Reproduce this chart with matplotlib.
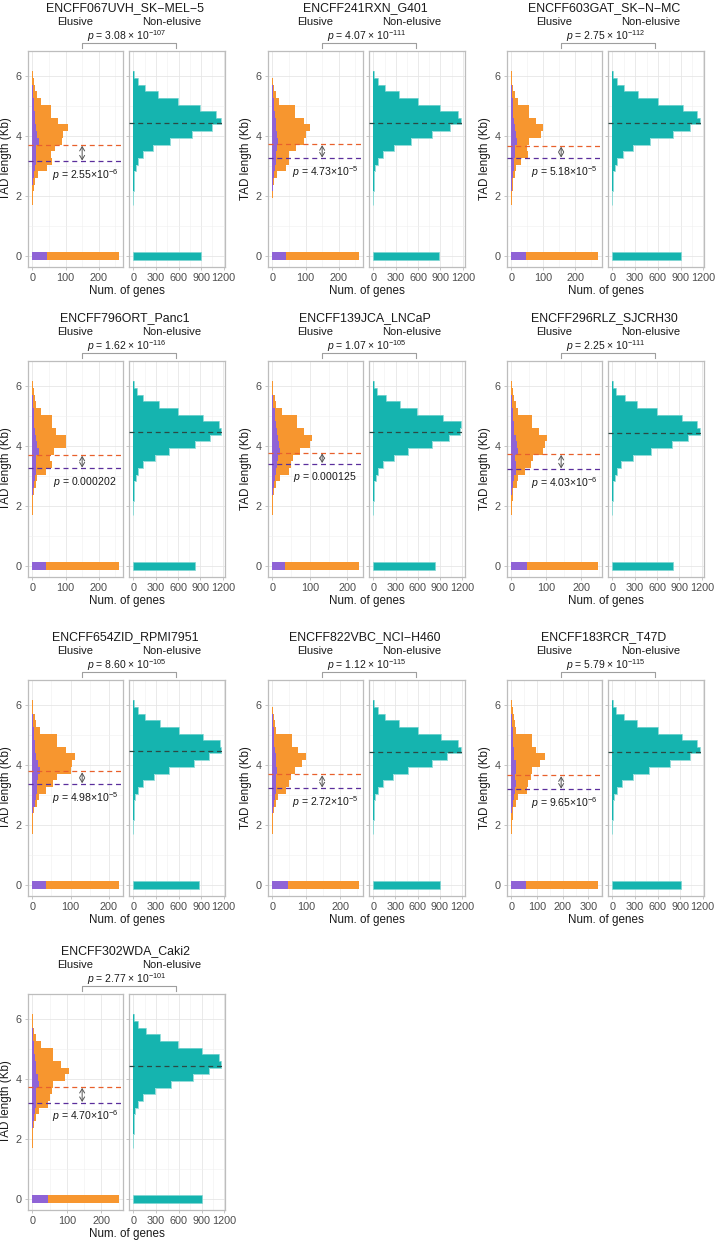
"""
TAD length distributions of elusive vs non-elusive genes, one panel pair per cell line.
"""

import matplotlib.pyplot as plt
import matplotlib.transforms as mtransforms
from matplotlib.lines import Line2D
from matplotlib.ticker import MultipleLocator
import numpy as np

plt.rcParams['font.family'] = ['Liberation Sans', 'DejaVu Sans']
plt.rcParams['mathtext.fontset'] = 'custom'
plt.rcParams['mathtext.rm'] = 'Liberation Sans'
plt.rcParams['mathtext.it'] = 'Liberation Sans:italic'

# Data
cell_lines = ['ENCFF067UVH_SK\u2212MEL\u22125', 'ENCFF241RXN_G401', 'ENCFF603GAT_SK\u2212N\u2212MC',
              'ENCFF796ORT_Panc1', 'ENCFF139JCA_LNCaP', 'ENCFF296RLZ_SJCRH30',
              'ENCFF654ZID_RPMI7951', 'ENCFF822VBC_NCI\u2212H460', 'ENCFF183RCR_T47D',
              'ENCFF302WDA_Caki2']

# histogram bin centres (TAD length, Kb)
tad_bins = [1.82, 2.04, 2.27, 2.49, 2.71, 2.93, 3.16, 3.38, 3.60, 3.82,
            4.04, 4.27, 4.49, 4.71, 4.93, 5.16, 5.38, 5.60, 5.82, 6.04]

elusive_counts = [
    [1, 3, 4, 8, 18, 43, 58, 55, 68, 90, 92, 108, 78, 55, 55, 25, 15, 8, 4, 2],
    [0, 1, 3, 6, 15, 40, 50, 50, 70, 95, 100, 112, 95, 67, 67, 20, 12, 5, 2, 0],
    [1, 2, 4, 6, 10, 15, 30, 52, 48, 55, 92, 100, 78, 55, 55, 20, 10, 6, 3, 1],
    [2, 3, 3, 5, 12, 15, 40, 58, 52, 65, 100, 100, 70, 60, 60, 25, 12, 8, 5, 2],
    [1, 2, 3, 5, 10, 20, 45, 50, 55, 75, 100, 105, 85, 65, 65, 25, 10, 8, 3, 1],
    [1, 2, 4, 5, 15, 18, 40, 55, 62, 90, 95, 103, 80, 60, 60, 20, 12, 8, 4, 1],
    [1, 2, 3, 5, 12, 18, 35, 55, 65, 100, 105, 112, 88, 65, 65, 20, 10, 6, 3, 1],
    [1, 2, 3, 5, 10, 18, 40, 50, 55, 68, 88, 100, 77, 57, 57, 10, 8, 5, 2, 0],
    [1, 2, 5, 8, 20, 25, 60, 65, 78, 82, 110, 130, 95, 80, 80, 20, 15, 10, 5, 1],
    [1, 2, 3, 5, 12, 18, 45, 52, 58, 60, 95, 105, 82, 60, 60, 25, 12, 6, 3, 1],
]

subset_counts = [
    [0, 0, 0, 3, 6, 8, 10, 12, 12, 20, 15, 10, 8, 8, 6, 4, 2, 1, 0, 0],
    [0, 0, 1, 3, 5, 8, 10, 12, 15, 18, 15, 12, 10, 8, 6, 4, 2, 1, 0, 0],
    [0, 0, 1, 3, 5, 8, 8, 12, 10, 18, 15, 12, 8, 6, 5, 4, 2, 1, 0, 0],
    [0, 0, 0, 2, 5, 8, 10, 12, 12, 20, 15, 10, 8, 6, 5, 4, 2, 1, 0, 0],
    [0, 0, 0, 2, 5, 8, 10, 12, 15, 20, 18, 15, 12, 10, 8, 6, 3, 1, 0, 0],
    [0, 0, 0, 3, 6, 8, 12, 12, 10, 18, 15, 12, 8, 8, 6, 5, 2, 1, 0, 0],
    [0, 0, 0, 2, 6, 10, 12, 12, 15, 20, 15, 10, 8, 6, 5, 4, 2, 1, 0, 0],
    [0, 0, 0, 3, 5, 8, 10, 10, 12, 15, 12, 10, 8, 6, 5, 4, 2, 1, 0, 0],
    [0, 0, 0, 3, 8, 10, 15, 18, 15, 20, 18, 12, 10, 8, 6, 5, 3, 1, 0, 0],
    [0, 0, 0, 3, 6, 8, 10, 12, 12, 18, 15, 12, 10, 8, 6, 5, 2, 1, 0, 0],
]

nonelusive_counts = [
    [0, 1, 3, 5, 12, 31, 62, 129, 262, 493, 782, 1040, 1160, 1097, 884, 590, 333, 155, 58, 8],
    [0, 1, 2, 5, 10, 28, 60, 130, 270, 500, 780, 1030, 1170, 1140, 900, 600, 350, 160, 60, 10],
    [0, 1, 2, 4, 10, 30, 65, 135, 270, 490, 800, 1020, 1150, 1110, 930, 600, 340, 150, 55, 8],
    [0, 1, 2, 4, 10, 30, 60, 125, 290, 480, 820, 1030, 1170, 1150, 940, 600, 340, 130, 50, 10],
    [0, 1, 2, 4, 10, 30, 65, 130, 280, 470, 790, 1020, 1170, 1180, 940, 590, 360, 170, 55, 10],
    [0, 1, 2, 4, 12, 30, 62, 120, 280, 520, 800, 1020, 1170, 1140, 930, 600, 330, 170, 55, 8],
    [0, 1, 2, 4, 10, 28, 60, 130, 270, 480, 800, 1000, 1160, 1150, 930, 600, 350, 160, 55, 8],
    [0, 1, 2, 4, 10, 28, 60, 130, 270, 470, 790, 1000, 1185, 1150, 920, 600, 350, 160, 60, 10],
    [0, 1, 2, 4, 10, 28, 60, 130, 270, 490, 770, 1030, 1160, 1120, 930, 600, 330, 150, 50, 10],
    [0, 1, 2, 4, 10, 28, 55, 130, 280, 500, 780, 1000, 1150, 1130, 900, 590, 350, 160, 60, 10],
]

# genes without a TAD (plotted at 0)
elusive_zero = [260, 260, 270, 260, 230, 247, 226, 255, 336, 250]
subset_zero = [45, 42, 45, 40, 35, 44, 35, 45, 57, 45]
nonelusive_zero = [900, 880, 905, 830, 840, 810, 870, 900, 910, 910]

# mean lines
elusive_mean = [3.70, 3.72, 3.67, 3.70, 3.78, 3.73, 3.78, 3.68, 3.65, 3.73]
subset_mean = [3.15, 3.25, 3.25, 3.25, 3.40, 3.22, 3.36, 3.22, 3.18, 3.20]
nonelusive_mean = [4.42, 4.43, 4.42, 4.45, 4.45, 4.43, 4.45, 4.44, 4.42, 4.42]

# p-values
p_between_mant = ['3.08', '4.07', '2.75', '1.62', '1.07', '2.25', '8.60', '1.12', '5.79', '2.77']
p_between_exp = [-107, -111, -112, -116, -105, -111, -105, -115, -115, -101]
p_within = ['2.55\u00d710$^{-6}$', '4.73\u00d710$^{-5}$', '5.18\u00d710$^{-5}$', '0.000202',
            '0.000125', '4.03\u00d710$^{-6}$', '4.98\u00d710$^{-5}$', '2.72\u00d710$^{-5}$',
            '9.65\u00d710$^{-6}$', '4.70\u00d710$^{-6}$']

# Styling
W, H = 718, 1240
ORANGE = '#F7962F'
PURPLE = '#8F63D6'
TEAL = '#15B4AF'
ORANGE_LINE = '#E8602C'
PURPLE_LINE = '#5A2E9C'
TEAL_LINE = '#2B4A44'
BORDER = '#BDBDBD'
GRID = '#E6E6E6'
TICKLAB = '#4D4D4D'
TXT = '#1a1a1a'

col_x = [0, 240, 479]
row_top = [51, 361, 680, 994]
AX_H = 216

# bin edges from the centres
centres = np.array(tad_bins)
mids = (centres[1:] + centres[:-1]) / 2
edges = np.concatenate([[centres[0] - (mids[0] - centres[0])], mids,
                        [centres[-1] + (centres[-1] - mids[-1])]])

fig = plt.figure(figsize=(W / 100, H / 100), dpi=100)


def px_rect(x0, x1, top):
    return [x0 / W, 1 - (top + AX_H) / H, (x1 - x0) / W, AX_H / H]


def ftext(x, y, s, **kw):
    fig.text(x / W, 1 - y / H, s, ha='center', va='center', color=TXT, **kw)


def style(ax, major, minor):
    ax.set_ylim(-0.37, 6.83)
    ax.xaxis.set_major_locator(MultipleLocator(major))
    ax.xaxis.set_minor_locator(MultipleLocator(minor))
    ax.yaxis.set_major_locator(MultipleLocator(2))
    ax.yaxis.set_minor_locator(MultipleLocator(1))
    ax.grid(which='major', color=GRID, lw=0.6, zorder=0)
    ax.grid(which='minor', color='#F0F0F0', lw=0.4, zorder=0)
    ax.set_axisbelow(True)
    for s in ax.spines.values():
        s.set_color(BORDER)
        s.set_linewidth(0.9)
    ax.tick_params(which='major', length=2.5, width=0.6, color=BORDER,
                   labelsize=7.8, labelcolor=TICKLAB, pad=2)
    ax.tick_params(which='minor', length=0)


for i, name in enumerate(cell_lines):
    r, c = divmod(i, 3)
    x0 = col_x[c]
    top = row_top[r]

    # elusive panel
    ax1 = fig.add_axes(px_rect(x0 + 28, x0 + 123, top))
    ax1.stairs(elusive_counts[i], edges, orientation='horizontal', fill=True,
               color=ORANGE, lw=0, zorder=2)
    ax1.stairs(subset_counts[i], edges, orientation='horizontal', fill=True,
               color=PURPLE, lw=0, zorder=3)
    ax1.barh([0], [elusive_zero[i]], height=0.26, color=ORANGE, lw=0, zorder=2)
    ax1.barh([0], [subset_zero[i]], height=0.26, color=PURPLE, lw=0, zorder=3)
    xmax = max(elusive_zero[i], max(elusive_counts[i]))
    ax1.set_xlim(-0.05 * xmax, 1.05 * xmax)
    ax1.axhline(elusive_mean[i], color=ORANGE_LINE, lw=0.9, ls=(0, (4, 3)), zorder=4)
    ax1.axhline(subset_mean[i], color=PURPLE_LINE, lw=0.9, ls=(0, (4, 3)), zorder=4)
    trans = mtransforms.blended_transform_factory(ax1.transAxes, ax1.transData)
    ax1.annotate('', xy=(0.57, subset_mean[i] + 0.03), xytext=(0.57, elusive_mean[i] - 0.03),
                 xycoords=trans, textcoords=trans,
                 arrowprops=dict(arrowstyle='<->,head_length=0.5,head_width=0.3',
                                 color='#555555', lw=0.7,
                                 shrinkA=0, shrinkB=0, mutation_scale=6), zorder=5)
    ax1.text(0.6, subset_mean[i] - 0.45, '$p$ = ' + p_within[i], transform=trans,
             ha='center', va='center', fontsize=7.6, color=TXT, zorder=5)
    style(ax1, 100, 50)

    # non-elusive panel
    ax2 = fig.add_axes(px_rect(x0 + 129, x0 + 225, top))
    ax2.stairs(nonelusive_counts[i], edges, orientation='horizontal', fill=True,
               color=TEAL, lw=0, zorder=2)
    ax2.stairs(nonelusive_counts[i], edges, orientation='horizontal', fill=False,
               color='#7FD6D2', lw=0.6, zorder=2)
    ax2.barh([0], [nonelusive_zero[i]], height=0.26, color=TEAL,
             edgecolor='#7FD6D2', lw=0.5, zorder=2)
    xmax2 = max(nonelusive_zero[i], max(nonelusive_counts[i]))
    ax2.set_xlim(-0.05 * xmax2, 1.05 * xmax2)
    ax2.axhline(nonelusive_mean[i], color=TEAL_LINE, lw=0.9, ls=(0, (4, 3)), zorder=4)
    style(ax2, 300, 150)
    ax2.set_yticklabels([])

    # labels
    ftext(x0 + 125, top - 43, name, fontsize=8.9)
    ftext(x0 + 75, top - 29, 'Elusive', fontsize=8)
    ftext(x0 + 172, top - 29, 'Non-elusive', fontsize=8)
    ftext(x0 + 127, top - 15,
          '$p$ = %s \u00d7 10$^{%d}$' % (p_between_mant[i], p_between_exp[i]),
          fontsize=7.5)
    bx0, bx1, by = x0 + 82, x0 + 176, top - 8
    fig.add_artist(Line2D([bx0 / W, bx0 / W, bx1 / W, bx1 / W],
                          [1 - (top - 3) / H, 1 - by / H, 1 - by / H, 1 - (top - 3) / H],
                          transform=fig.transFigure, color='#9E9E9E', lw=0.8))
    fig.text((x0 + 6) / W, 1 - (top + AX_H / 2) / H, 'TAD length (Kb)', rotation=90,
             ha='center', va='center', fontsize=8.4, color=TXT)
    ftext(x0 + 127, top + AX_H + 24, 'Num. of genes', fontsize=8.4)

fig.savefig('out.png', dpi=100)
